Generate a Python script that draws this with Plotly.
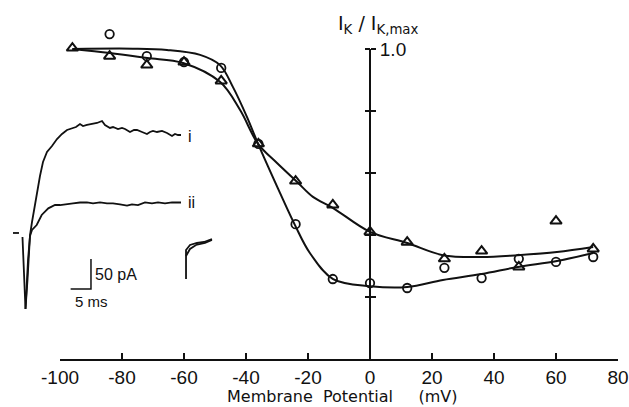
import plotly.graph_objects as go

W, H = 629, 407

# ---------------- main data (membrane potential in mV, normalized I_K) ----------------
circ_v = [-84, -72, -60, -48, -36, -24, -12, 0, 12, 24, 36, 48, 60, 72]
circ_i = [1.048, 0.977, 0.958, 0.939, 0.694, 0.435, 0.258, 0.245, 0.229, 0.294, 0.261, 0.323, 0.313, 0.329]

tri_v = [-96, -84, -72, -60, -48, -36, -24, -12, 0, 12, 24, 36, 48, 60, 72]
tri_i = [1.003, 0.977, 0.948, 0.958, 0.897, 0.694, 0.574, 0.497, 0.41, 0.377, 0.323, 0.348, 0.297, 0.445, 0.355]

# fitted curves
fit_c_v = [-96, -76.5, -65.5, -54.8, -48.4, -44.2, -39.7, -36.1, -29, -24.2, -19.4, -11.9, 0, 12, 23.5, 36, 47.7, 60.3, 72]
fit_c_i = [1.0, 1.001, 0.997, 0.981, 0.948, 0.877, 0.781, 0.694, 0.535, 0.432, 0.342, 0.258, 0.235, 0.232, 0.255, 0.274, 0.297, 0.316, 0.342]

fit_t_v = [-96, -83.9, -71.9, -60.3, -48.4, -41.9, -36.1, -30, -23.5, -18.4, -11.9, 0, 12, 23.5, 36, 47.7, 60.3, 72]
fit_t_i = [1.0, 0.987, 0.971, 0.955, 0.894, 0.803, 0.694, 0.632, 0.571, 0.523, 0.487, 0.41, 0.374, 0.335, 0.329, 0.335, 0.345, 0.361]

x_ticks = [-100, -80, -60, -40, -20, 0, 20, 40, 60, 80]
x_ticktext = ["-100", "-80", "-60", "-40", "-20", "0", "20", "40", "60", "80"]
y_ticks = [0.2, 0.4, 0.6, 0.8, 1.0]
y_ticktext = ["", "", "", "", "1.0"]

# ---------------- inset current traces (time in ms, current in pA) ----------------
tr1_t = [0.61, 1.35, 1.84, 2.46, 2.95, 3.69, 4.91, 5.65, 6.63, 7.86, 9.09, 10.32, 11.55, 13.02, 13.76,
         14.74, 15.48, 16.46, 17.69, 18.92, 20.15, 20.88, 22.11, 22.85, 24.08, 25.06, 25.8, 27.03,
         28.01, 28.75, 29.98, 31.2, 31.94, 32.68, 33.66, 34.89, 36.12, 37.35, 38.08, 38.82, 39.56]
tr1_i = [5, -115, -66.7, 8.3, 30, 60, 106.7, 130, 146.7, 156.7, 168.3, 176.7, 183.3, 186.7, 188.3,
         193.3, 190, 191.7, 193.3, 195, 198.3, 191.7, 186.7, 188.3, 185, 186.7, 185, 180,
         183.3, 183.3, 180, 176.7, 180, 181.7, 180, 181.7, 178.3, 173.3, 176.7, 175, 175]

tr2_t = [1.35, 1.97, 2.46, 2.95, 4.10, 5.33, 6.95, 8.60, 9.83, 11.30, 13.02, 14.74, 16.46, 17.94,
         19.66, 21.38, 22.85, 24.57, 26.29, 27.52, 28.99, 30.71, 32.43, 33.91, 35.63, 37.35, 38.82, 39.56]
tr2_i = [-115, -33.3, 6.7, 16.7, 25, 41.7, 52.8, 58.3, 58.3, 60, 61.2, 62.5, 62.8, 61.2,
         62.8, 61.2, 61.2, 59.5, 57.2, 59.5, 58.3, 62.8, 61.2, 62.8, 61.2, 62.8, 62.2, 62.5]

base_t = [-1.72, -0.25]
base_i = [11.7, 11.7]

tail_a_t = [40.79, 40.79, 41.77, 43.49, 45.21, 47.17]
tail_a_i = [-65, -16.7, -8.3, -5, -3.3, 1.7]
tail_b_t = [40.79, 41.77, 43.24, 45.45, 47.17]
tail_b_i = [-26.7, -15, -8.3, -5, 0]

bar_corner_t, bar_corner_i = 17.44, -81.7
bar_ms, bar_pA = 5, 50

ink = "#111111"
fig = go.Figure()

# fitted curves
fig.add_trace(go.Scatter(x=fit_c_v, y=fit_c_i, mode="lines", line=dict(color=ink, width=2, shape="spline"),
                         hoverinfo="skip"))
fig.add_trace(go.Scatter(x=fit_t_v, y=fit_t_i, mode="lines", line=dict(color=ink, width=2, shape="spline"),
                         hoverinfo="skip"))
# data points
fig.add_trace(go.Scatter(x=circ_v, y=circ_i, mode="markers", cliponaxis=False,
                         marker=dict(symbol="circle-open", size=8.5, color=ink, line=dict(width=1.8, color=ink))))
fig.add_trace(go.Scatter(x=tri_v, y=tri_i, mode="markers", cliponaxis=False,
                         marker=dict(symbol="triangle-up-open", size=10, color=ink, line=dict(width=2, color=ink))))
# empty traces so the two drawn y-axes (right labels / left ticks) get rendered
fig.add_trace(go.Scatter(x=[None], y=[None], xaxis="x", yaxis="y3", showlegend=False, hoverinfo="skip"))
fig.add_trace(go.Scatter(x=[None], y=[None], xaxis="x", yaxis="y4", showlegend=False, hoverinfo="skip"))

# inset traces
for tx, ty in [(tr1_t, tr1_i), (tr2_t, tr2_i), (base_t, base_i), (tail_a_t, tail_a_i), (tail_b_t, tail_b_i)]:
    fig.add_trace(go.Scatter(x=tx, y=ty, xaxis="x2", yaxis="y2", mode="lines",
                             line=dict(color=ink, width=1.8), hoverinfo="skip"))
# scale bar
fig.add_trace(go.Scatter(x=[bar_corner_t - bar_ms, bar_corner_t, bar_corner_t],
                         y=[bar_corner_i, bar_corner_i, bar_corner_i + bar_pA],
                         xaxis="x2", yaxis="y2", mode="lines", line=dict(color=ink, width=1.5), hoverinfo="skip"))

tick_font = dict(family="Liberation Sans", size=19, color=ink)

Y0 = 359          # pixel row of I = 0
Y1 = 49           # pixel row of I = 1.0
YMAX = 1.15       # data axis headroom
px_per_unit = (Y0 - Y1)
ytop_px = Y0 - YMAX * px_per_unit

fig.update_layout(
    width=W, height=H, autosize=False, showlegend=False,
    margin=dict(l=0, r=0, t=0, b=0),
    paper_bgcolor="white", plot_bgcolor="rgba(0,0,0,0)",
    xaxis=dict(domain=[60 / W, 618 / W], range=[-100, 80], tickvals=x_ticks, ticktext=x_ticktext,
               ticks="inside", ticklen=6, tickwidth=2, tickcolor=ink, showline=True, linewidth=2,
               linecolor=ink, showgrid=False, zeroline=False, tickfont=tick_font, anchor="y",
               automargin=False),
    yaxis=dict(domain=[(H - Y0) / H, (H - ytop_px) / H], range=[0, YMAX], visible=False,
               showgrid=False, zeroline=False, automargin=False),
    yaxis3=dict(domain=[(H - Y0) / H, (H - Y1) / H], range=[0, 1.0], anchor="free", position=370 / W,
                side="right", tickvals=y_ticks, ticktext=y_ticktext, ticks="outside", ticklen=5,
                tickwidth=2, tickcolor=ink, showline=True, linewidth=2, linecolor=ink,
                showgrid=False, zeroline=False, tickfont=tick_font, automargin=False),
    yaxis4=dict(domain=[(H - Y0) / H, (H - Y1) / H], range=[0, 1.0], anchor="free", position=370 / W,
                side="left", tickvals=y_ticks, showticklabels=False, ticks="outside",
                ticklen=5, tickwidth=2, tickcolor=ink, showline=False, showgrid=False, zeroline=False,
                automargin=False),
    xaxis2=dict(domain=[0, 220 / W], range=[-4.914, 49.14], visible=False, anchor="y2", automargin=False),
    yaxis2=dict(domain=[(H - 320) / H, (H - 100) / H], range=[-133.33, 233.33], visible=False, anchor="x2",
                automargin=False),
    annotations=[
        dict(text="Membrane\u00a0\u00a0Potential\u00a0\u00a0\u00a0\u00a0\u00a0(mV)", xref="paper", yref="paper",
             x=225 / W, y=(H - 396) / H, xanchor="left", yanchor="middle", showarrow=False,
             font=dict(family="DejaVu Sans", size=16, color=ink)),
        dict(text="I<sub>K</sub>\u00a0/\u00a0I<sub>K,max</sub>", xref="paper", yref="paper",
             x=336 / W, y=(H - 24) / H, xanchor="left", yanchor="middle", showarrow=False,
             font=dict(family="DejaVu Sans", size=19, color=ink)),
        dict(text="i", xref="x2", yref="y2", x=40.9, y=173, xanchor="left", yanchor="middle",
             showarrow=False, font=dict(family="Liberation Sans", size=16, color=ink)),
        dict(text="ii", xref="x2", yref="y2", x=40.9, y=61.7, xanchor="left", yanchor="middle",
             showarrow=False, font=dict(family="Liberation Sans", size=16, color=ink)),
        dict(text="50 pA", xref="x2", yref="y2", x=bar_corner_t + 0.4, y=bar_corner_i + 25,
             xanchor="left", yanchor="middle", showarrow=False,
             font=dict(family="Liberation Sans", size=16, color=ink)),
        dict(text="5 ms", xref="x2", yref="y2", x=12.95, y=-103, xanchor="left", yanchor="middle",
             showarrow=False, font=dict(family="Liberation Sans", size=15, color=ink)),
    ],
)

fig.write_html("out.html", config={"displayModeBar": False},
               post_script="document.body.style.margin='0';")
